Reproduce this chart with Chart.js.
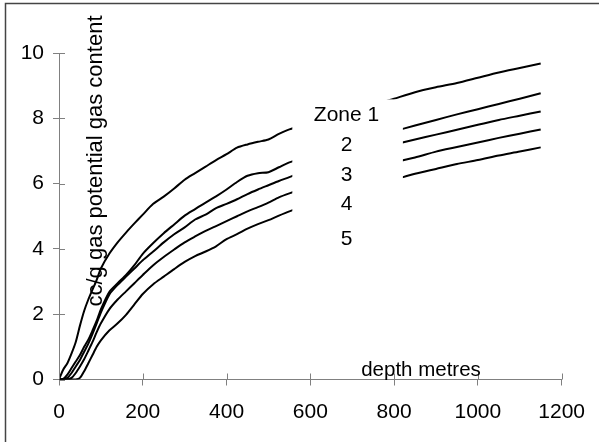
<!DOCTYPE html>
<html>
<head>
<meta charset="utf-8">
<script src="https://cdn.jsdelivr.net/npm/chart.js@4.4.1/dist/chart.umd.min.js"></script>
<style>
  html, body { margin: 0; padding: 0; background: #ffffff; }
  #wrap { position: relative; width: 599px; height: 442px; }
  canvas { display: block; }
</style>
</head>
<body>
<div id="wrap"><canvas id="c" width="599" height="442"></canvas></div>
<script>
// ---- data ----
const depths = [0,10,20,30,40,50,60,70,80,90,100,120,140,160,180,200,225,250,275,300,325,350,375,400,425,450,475,500,525,550,600,650,700,750,800,850,900,950,1000,1050,1100,1150];
const zone1 = [0,0.3,0.5,0.8,1.15,1.65,2.1,2.45,2.75,3.05,3.4,3.85,4.2,4.5,4.78,5.05,5.38,5.6,5.85,6.12,6.32,6.52,6.72,6.9,7.1,7.2,7.28,7.35,7.52,7.66,7.85,8.05,8.22,8.4,8.6,8.8,8.95,9.08,9.24,9.4,9.54,9.68];
const zone2 = [0,0.02,0.15,0.35,0.55,0.75,1.0,1.22,1.5,1.8,2.15,2.68,2.95,3.2,3.5,3.85,4.18,4.48,4.75,5.02,5.22,5.42,5.61,5.82,6.05,6.24,6.32,6.35,6.5,6.65,6.85,7.05,7.25,7.42,7.6,7.78,7.95,8.12,8.28,8.44,8.6,8.77];
const zone3 = [0,0,0.05,0.2,0.4,0.6,0.85,1.1,1.4,1.72,2.05,2.6,2.9,3.15,3.4,3.65,3.92,4.2,4.45,4.66,4.9,5.05,5.25,5.38,5.52,5.68,5.82,5.95,6.08,6.2,6.45,6.68,6.88,7.05,7.2,7.35,7.5,7.65,7.8,7.95,8.08,8.21];
const zone4 = [0,0,0,0.05,0.2,0.4,0.62,0.88,1.15,1.45,1.72,2.15,2.45,2.7,2.95,3.2,3.5,3.75,3.98,4.2,4.38,4.55,4.7,4.85,5.0,5.15,5.28,5.42,5.58,5.7,5.92,6.12,6.32,6.5,6.65,6.8,6.98,7.12,7.26,7.4,7.53,7.66];
const zone5 = [0,0,0,0,0,0.05,0.25,0.5,0.75,1.0,1.2,1.5,1.72,1.98,2.3,2.62,2.92,3.15,3.38,3.6,3.78,3.92,4.08,4.3,4.45,4.62,4.76,4.88,5.02,5.15,5.38,5.58,5.78,5.95,6.12,6.3,6.45,6.6,6.72,6.86,6.98,7.11];
const zoneLabels = ["Zone 1", "2", "3", "4", "5"];
const xTicks = [0, 200, 400, 600, 800, 1000, 1200];
const yTicks = [0, 2, 4, 6, 8, 10];
const xTitle = "depth metres";
const yTitle = "cc/g gas potential gas content";

const FONT = '"Liberation Sans", Arial, sans-serif';
const AXIS_COLOR = '#808080';

const series = [zone1, zone2, zone3, zone4, zone5];
const datasets = series.map((vals, i) => ({
  label: zoneLabels[i],
  data: depths.map((d, j) => ({ x: d, y: vals[j] })),
  borderColor: '#000000',
  borderWidth: 2,
  pointRadius: 0,
  tension: 0.25,
  fill: false
}));

// frame, inner tick halves, legend box and titles
const decor = {
  id: 'decor',
  beforeDraw(chart) {
    const ctx = chart.ctx;
    ctx.save();
    ctx.fillStyle = '#ffffff';
    ctx.fillRect(0, 0, chart.width, chart.height);
    ctx.strokeStyle = '#444444';
    ctx.lineWidth = 1.5;
    ctx.strokeRect(5.5, 3.5, chart.width + 20, chart.height + 20);
    ctx.restore();
  },
  afterDatasetsDraw(chart) {
    const ctx = chart.ctx;
    const xs = chart.scales.x, ys = chart.scales.y;
    ctx.save();
    // inner halves of the crossing ticks
    ctx.strokeStyle = AXIS_COLOR;
    ctx.lineWidth = 1;
    const ay = ys.getPixelForValue(0);
    const ax = xs.getPixelForValue(0);
    xTicks.forEach(v => {
      const p = Math.round(xs.getPixelForValue(v)) + 0.5;
      ctx.beginPath(); ctx.moveTo(p, ay); ctx.lineTo(p, ay - 6); ctx.stroke();
    });
    yTicks.forEach(v => {
      const p = Math.round(ys.getPixelForValue(v)) + 0.5;
      ctx.beginPath(); ctx.moveTo(ax, p); ctx.lineTo(ax + 6, p); ctx.stroke();
    });
    // legend box (white, covers the lines)
    const bx1 = xs.getPixelForValue(557), bx2 = xs.getPixelForValue(821);
    const by1 = ys.getPixelForValue(8.58), by2 = ys.getPixelForValue(3.8);
    ctx.fillStyle = '#ffffff';
    ctx.fillRect(bx1, by1, bx2 - bx1, by2 - by1);
    ctx.fillStyle = '#000000';
    ctx.font = '21px ' + FONT;
    ctx.textAlign = 'center';
    ctx.textBaseline = 'middle';
    const lx = 346.5;
    const ly = [115, 145, 175, 204.5, 239];
    zoneLabels.forEach((t, i) => ctx.fillText(t, lx, ly[i]));
    // axis titles drawn inside plot like the reference
    ctx.font = '20.5px ' + FONT;
    ctx.textBaseline = 'alphabetic';
    ctx.fillText(xTitle, 421, 376);
    ctx.translate(102, 161);
    ctx.rotate(-Math.PI / 2);
    ctx.font = '22px ' + FONT;
    ctx.fillText(yTitle, 0, 0);
    ctx.restore();
  }
};

new Chart(document.getElementById('c'), {
  type: 'line',
  data: { datasets },
  options: {
    responsive: false,
    animation: false,
    layout: { padding: { left: 0, right: 36, top: 53, bottom: 0 } },
    plugins: { legend: { display: false }, tooltip: { enabled: false }, title: { display: false } },
    scales: {
      x: {
        type: 'linear', min: 0, max: 1200,
        afterBuildTicks: s => { s.ticks = xTicks.map(v => ({ value: v })); },
        afterFit: s => { s.height = 62.5; },
        grid: { display: true, drawOnChartArea: false, drawTicks: true, tickLength: 6, color: AXIS_COLOR },
        border: { display: true, color: AXIS_COLOR, width: 1 },
        ticks: { color: '#000000', font: { family: FONT, size: 21 }, padding: 14, maxRotation: 0, autoSkip: false, callback: v => String(v) }
      },
      y: {
        type: 'linear', min: 0, max: 10,
        afterBuildTicks: s => { s.ticks = yTicks.map(v => ({ value: v })); },
        afterFit: s => { s.width = 59; },
        grid: { display: true, drawOnChartArea: false, drawTicks: true, tickLength: 6, color: AXIS_COLOR },
        border: { display: true, color: AXIS_COLOR, width: 1 },
        ticks: { color: '#000000', font: { family: FONT, size: 21 }, padding: 9, autoSkip: false, callback: v => String(v) }
      }
    }
  },
  plugins: [decor]
});
</script>
</body>
</html>
